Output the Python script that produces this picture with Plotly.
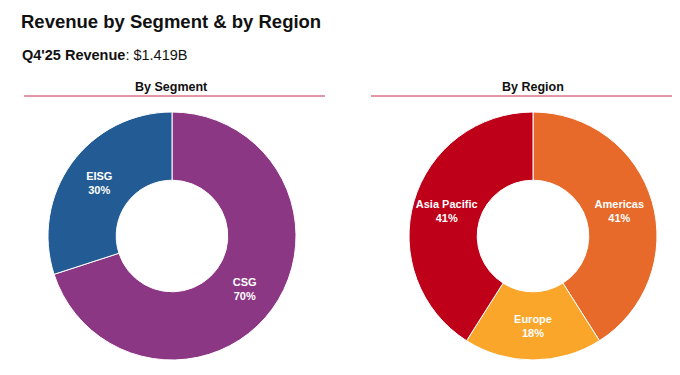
import plotly.graph_objects as go

segment_labels = ["CSG", "EISG"]
segment_values = [70, 30]
segment_colors = ["#8B3784", "#235B95"]

region_labels = ["Americas", "Europe", "Asia Pacific"]
region_values = [41, 18, 41]
region_colors = ["#E76A2A", "#F9A62B", "#BE0019"]

W, H = 680, 375
OFF = 8  # page body margin
FONT = "Liberation Sans, Arial, sans-serif"

def px_x(v):
    return (v - OFF) / W

def px_y(v):
    return 1 - (v - OFF) / H

fig = go.Figure()

common = dict(
    hole=0.45,
    sort=False,
    direction="clockwise",
    rotation=0,
    texttemplate="<b>%{label}<br>%{percent:.0%}</b>",
    textposition="inside",
    insidetextorientation="horizontal",
    textfont=dict(color="white", size=11, family=FONT),
    hoverinfo="label+percent",
    showlegend=False,
)

fig.add_trace(go.Pie(
    labels=segment_labels, values=segment_values,
    marker=dict(colors=segment_colors, line=dict(color="white", width=1)),
    domain=dict(x=[px_x(48), px_x(296)], y=[px_y(360), px_y(112)]),
    **common,
))
fig.add_trace(go.Pie(
    labels=region_labels, values=region_values,
    marker=dict(colors=region_colors, line=dict(color="white", width=1)),
    domain=dict(x=[px_x(409), px_x(657)], y=[px_y(360), px_y(112)]),
    **common,
))

annotations = [
    dict(text="<b>Revenue by Segment & by Region</b>", x=px_x(19), y=px_y(22),
         xanchor="left", yanchor="middle", font=dict(size=18.5, color="#111111", family=FONT)),
    dict(text="<b>Q4'25 Revenue</b>: $1.419B", x=px_x(20), y=px_y(55),
         xanchor="left", yanchor="middle", font=dict(size=14.5, color="#111111", family=FONT)),
    dict(text="<b>By Segment</b>", x=px_x(171), y=px_y(87),
         xanchor="center", yanchor="middle", font=dict(size=12.5, color="#111111", family=FONT)),
    dict(text="<b>By Region</b>", x=px_x(533), y=px_y(87),
         xanchor="center", yanchor="middle", font=dict(size=12.5, color="#111111", family=FONT)),
]
for a in annotations:
    a.update(xref="paper", yref="paper", showarrow=False)

shapes = [
    dict(type="line", xref="paper", yref="paper", x0=px_x(24), x1=px_x(325), y0=px_y(96), y1=px_y(96),
         line=dict(color="#C8314F", width=1)),
    dict(type="line", xref="paper", yref="paper", x0=px_x(371), x1=px_x(672), y0=px_y(96), y1=px_y(96),
         line=dict(color="#C8314F", width=1)),
]

fig.update_layout(
    width=W, height=H,
    margin=dict(l=0, r=0, t=0, b=0),
    paper_bgcolor="white", plot_bgcolor="white",
    annotations=annotations, shapes=shapes,
    font=dict(family=FONT),
)

fig.write_html("out.html")
